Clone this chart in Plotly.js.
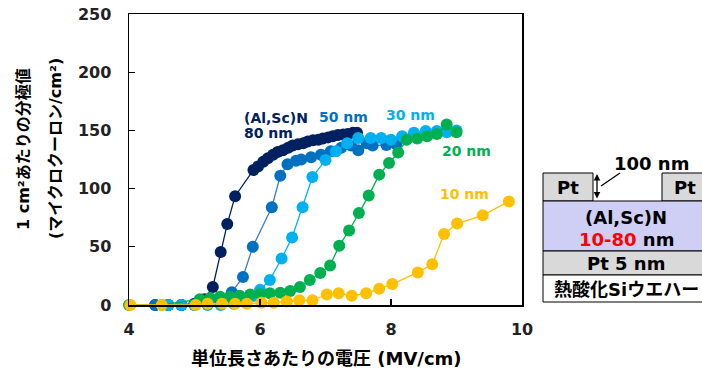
<!DOCTYPE html>
<html>
<head>
<meta charset="utf-8">
<script src="https://cdn.plot.ly/plotly-3.0.1.min.js"></script>
<style>html,body{margin:0;padding:0;background:#fff;}#chart{width:702px;height:376px;}</style>
</head>
<body>
<div id="chart"></div>
<script>
// ---- data (field in MV/cm, polarization in µC/cm²) ----
const nm80_x = [4.40, 4.60, 4.80, 5.00, 5.15, 5.28, 5.40, 5.50, 5.62, 5.90, 5.97, 6.05, 6.12, 6.20, 6.27, 6.35, 6.43, 6.50, 6.58, 6.66, 6.73, 6.81, 6.89, 6.96, 7.04, 7.11, 7.19, 7.27, 7.34, 7.42, 7.48];
const nm80_y = [0, 0, 0, 1, 5, 15.5, 45.5, 69.5, 93.5, 116, 119, 123, 126, 129, 131.5, 133, 135, 137, 138, 139, 140.5, 141.5, 142, 143, 144, 145, 146, 146.5, 147, 148, 148];

const nm50_x = [4.40, 4.60, 4.80, 5.00, 5.20, 5.40, 5.57, 5.74, 5.89, 6.18, 6.31, 6.42, 6.55, 6.63, 6.78, 6.93, 7.08, 7.24, 7.39, 7.50, 7.63, 7.72, 7.93, 8.08];
const nm50_y = [0, 0, 0, 0, 1, 3, 11, 24, 50, 84, 111, 121, 124, 125, 127, 129, 132, 135, 137, 133, 139, 137, 137.5, 138];

const nm30_x = [4.60, 4.80, 5.00, 5.20, 5.40, 5.60, 5.75, 5.90, 6.00, 6.15, 6.33, 6.49, 6.65, 6.80, 7.00, 7.16, 7.33, 7.50, 7.69, 7.85, 8.00, 8.17, 8.35, 8.53, 8.70, 8.85, 9.00];
const nm30_y = [0, 0, 0, 0, 0, 1, 3, 8, 13, 21.5, 40, 58, 84, 110, 124.5, 132, 139, 143.5, 143.5, 143.5, 142, 145, 148, 149.5, 149.5, 148.5, 150];

const nm20_x = [4.00, 4.50, 5.08, 5.24, 5.39, 5.54, 5.69, 5.85, 6.00, 6.15, 6.31, 6.46, 6.61, 6.76, 6.92, 7.07, 7.21, 7.36, 7.51, 7.66, 7.82, 7.97, 8.11, 8.24, 8.40, 8.55, 8.70, 8.85, 9.00];
const nm20_y = [0, 0, 5, 6, 7, 7, 8, 9, 9.5, 10, 10.5, 12, 15.5, 21.5, 27.5, 34, 51, 64, 79, 94, 112, 122, 131, 142, 143, 145, 147, 155, 148.5];

const nm10_x = [4.02, 4.50, 5.02, 5.20, 5.42, 5.62, 5.80, 6.02, 6.21, 6.41, 6.60, 6.80, 7.02, 7.20, 7.40, 7.62, 7.82, 8.02, 8.41, 8.63, 8.81, 9.01, 9.40, 9.80];
const nm10_y = [0, 0, 0, 1, 1, 1, 1, 2, 2, 3, 4, 4, 9, 10, 8, 10, 14, 18, 28, 35, 61, 70, 77, 89];

const seriesNames = ['80 nm', '50 nm', '30 nm', '20 nm', '10 nm'];
const seriesColors = ['#002060', '#0070C0', '#00B0F0', '#00B050', '#FFC000'];
const lineColors = ['#002060', '#3F78CC', '#00B0F0', '#00B050', '#FFC000'];
const xTicks = [4, 6, 8, 10];
const yTicks = [0, 50, 100, 150, 200, 250];

const xs = [nm80_x, nm50_x, nm30_x, nm20_x, nm10_x];
const ys = [nm80_y, nm50_y, nm30_y, nm20_y, nm10_y];

const FONT = '"DejaVu Sans", "Noto Sans CJK JP", sans-serif';

const traces = xs.map((x, i) => ({
  x: x, y: ys[i], type: 'scatter', mode: 'lines+markers', name: seriesNames[i],
  line: {color: lineColors[i], width: 1.3},
  marker: {color: seriesColors[i], size: 12},
  cliponaxis: false, showlegend: false
}));

// paper coordinate helpers (plot area: x 129..522, y 14..305 px)
const px = v => (v - 129) / 393;
const py = v => (305 - v) / 291;

const shapes = [
  {type:'rect', xref:'paper', yref:'paper', x0:px(543), x1:px(593), y0:py(201), y1:py(173), fillcolor:'#D9D9D9', line:{color:'#000', width:1}},
  {type:'rect', xref:'paper', yref:'paper', x0:px(662), x1:px(730), y0:py(201), y1:py(173), fillcolor:'#D9D9D9', line:{color:'#000', width:1}},
  {type:'rect', xref:'paper', yref:'paper', x0:px(543), x1:px(730), y0:py(251), y1:py(201), fillcolor:'#CFCFF5', line:{color:'#000', width:1}},
  {type:'rect', xref:'paper', yref:'paper', x0:px(543), x1:px(730), y0:py(275), y1:py(251), fillcolor:'#D9D9D9', line:{color:'#000', width:1}},
  {type:'rect', xref:'paper', yref:'paper', x0:px(543), x1:px(730), y0:py(302), y1:py(275), fillcolor:'#FFFFFF', line:{color:'#000', width:1}},
  {type:'line', xref:'paper', yref:'paper', x0:px(601), x1:px(620), y0:py(186), y1:py(173), line:{color:'#000', width:1.3}}
];

const ann = (x, y, text, size, color, xanchor) => ({
  xref:'paper', yref:'paper', x:x, y:y, text:text, showarrow:false,
  xanchor:xanchor || 'center', yanchor:'middle',
  font:{family:FONT, size:size, color:color || '#000', weight:'bold'}
});
const dann = (x, y, text, color) => ({
  xref:'x', yref:'y', x:x, y:y, text:text, showarrow:false, xanchor:'left', yanchor:'middle',
  font:{family:FONT, size:14, color:color, weight:'bold'}
});

const annotations = [
  dann(5.72, 160.7, '(Al,Sc)N', '#002060'),
  dann(5.72, 147.8, '80 nm', '#002060'),
  dann(6.87, 161.5, '50 nm', '#0070C0'),
  dann(7.89, 163, '30 nm', '#00B0F0'),
  dann(8.75, 132.3, '20 nm', '#00B050'),
  dann(8.72, 95.4, '10 nm', '#FFC000'),
  Object.assign(ann(px(23), py(149), '1 cm²あたりの分極値', 16), {textangle:-90}),
  Object.assign(ann(px(55), py(149), '(マイクロクーロン/cm²)', 16), {textangle:-90}),
  ann(px(326), py(358), '単位長さあたりの電圧 (MV/cm)', 18),
  ann(px(568), py(187), 'Pt', 18),
  ann(px(672), py(187), 'Pt', 18, '#000', 'left'),
  ann(px(651), py(164), '100 nm', 18),
  ann(px(626), py(217), '(Al,Sc)N', 18),
  ann(px(626), py(239), '<span style="color:#FF0000">10-80</span> nm', 18),
  ann(px(626), py(263), 'Pt 5 nm', 18),
  ann(px(626), py(289), '熱酸化Siウエハー', 18),
  {xref:'paper', yref:'paper', x:px(597), y:py(174), ax:0, ay:26, text:'', showarrow:true,
   arrowhead:2, startarrowhead:2, arrowside:'end+start', arrowsize:1, arrowwidth:1.3, arrowcolor:'#000'}
];

const layout = {
  width: 702, height: 376,
  margin: {l:129, r:180, t:14, b:71},
  paper_bgcolor:'#fff', plot_bgcolor:'#fff',
  showlegend:false,
  font:{family:FONT, color:'#000'},
  xaxis: {
    range:[4, 10], tickvals:xTicks, ticktext:xTicks.map(String),
    showline:true, mirror:true, linecolor:'#000', linewidth:1.5,
    ticks:'inside', ticklen:6, tickcolor:'#000', tickwidth:1.3,
    showgrid:false, zeroline:false, ticklabelstandoff:9,
    tickfont:{family:FONT, size:16, color:'#222', weight:'bold'}
  },
  yaxis: {
    range:[0, 250], tickvals:yTicks, ticktext:yTicks.map(String),
    showline:true, mirror:true, linecolor:'#000', linewidth:1.5,
    ticks:'inside', ticklen:6, tickcolor:'#000', tickwidth:1.3,
    showgrid:false, zeroline:false, ticklabelstandoff:13,
    tickfont:{family:FONT, size:16, color:'#222', weight:'bold'}
  },
  shapes: shapes,
  annotations: annotations
};

Plotly.newPlot('chart', traces, layout, {displayModeBar:false, staticPlot:true});
</script>
</body>
</html>
